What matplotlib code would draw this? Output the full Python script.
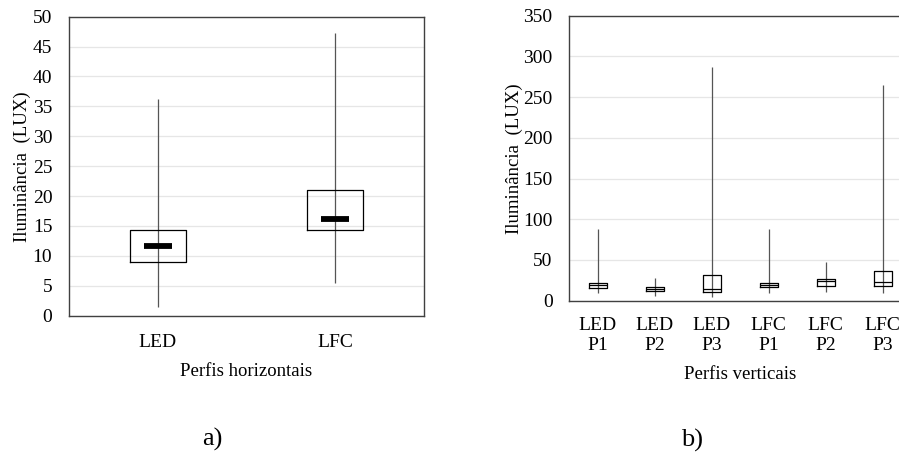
import matplotlib.pyplot as plt

plt.rcParams['font.family'] = ['Liberation Serif', 'DejaVu Serif']

# ---- data ----
horiz_labels = ["LED", "LFC"]
horiz_low = [1.5, 5.4]
horiz_q1 = [8.9, 14.3]
horiz_med = [11.6, 16.2]
horiz_q3 = [14.4, 21.1]
horiz_high = [36.2, 47.2]

vert_labels = ["LED\nP1", "LED\nP2", "LED\nP3", "LFC\nP1", "LFC\nP2", "LFC\nP3"]
vert_low = [9.6, 5.8, 5.0, 9.6, 10.6, 9.0]
vert_q1 = [15.7, 11.9, 10.6, 16.3, 18.0, 18.0]
vert_med = [19.0, 14.7, 14.7, 19.6, 24.0, 23.0]
vert_q3 = [22.3, 17.0, 31.0, 22.3, 27.0, 37.0]
vert_high = [87.7, 28.0, 287.0, 87.7, 47.0, 265.0]


def stats(labels, low, q1, med, q3, high):
    return [dict(label=l, whislo=a, q1=b, med=c, q3=d, whishi=e, fliers=[])
            for l, a, b, c, d, e in zip(labels, low, q1, med, q3, high)]


fig = plt.figure(figsize=(8.99, 4.53), dpi=100)
ax1 = fig.add_axes([69 / 899, 1 - 315.7 / 453, 355 / 899, 299 / 453])
ax2 = fig.add_axes([569.3 / 899, 1 - 300.7 / 453, 342 / 899, 285 / 453])

box = dict(color="black", linewidth=0.9)
no_whisk = dict(linestyle="none")
whisk_color = "#555555"

# ---- a) horizontal profiles ----
pos1 = [0.5, 1.5]
# whisker runs straight through the (unfilled) box in the reference
ax1.vlines(pos1, horiz_low, horiz_high, color=whisk_color, linewidth=0.9, zorder=2)
ax1.bxp(stats(horiz_labels, horiz_low, horiz_q1, horiz_med, horiz_q3, horiz_high),
        positions=pos1, widths=0.315, showcaps=False,
        boxprops=box, whiskerprops=no_whisk,
        medianprops=dict(color="black", linewidth=4.2, solid_capstyle="butt"))
ax1.set_xlim(0, 2)
ax1.set_ylim(0, 50)
ax1.set_yticks(range(0, 51, 5))
ax1.set_ylabel("Iluminância  (LUX)", fontsize=13.5, labelpad=1)
ax1.set_xlabel("Perfis horizontais", fontsize=13.5, labelpad=9)
ax1.text(0.405, -0.415, "a)", transform=ax1.transAxes, ha="center", va="center", fontsize=19)

# shrink median bars on the left chart to half the box width
for med_line in [l for l in ax1.lines if l.get_linewidth() == 4.2]:
    x0, x1 = med_line.get_xdata()[:2]
    c = (x0 + x1) / 2
    w = (x1 - x0) / 4
    med_line.set_xdata([c - w, c + w])

# ---- b) vertical profiles ----
pos2 = [i + 0.5 for i in range(6)]
ax2.vlines(pos2, vert_low, vert_high, color=whisk_color, linewidth=0.9, zorder=2)
ax2.bxp(stats(vert_labels, vert_low, vert_q1, vert_med, vert_q3, vert_high),
        positions=pos2, widths=0.32, showcaps=False,
        boxprops=box, whiskerprops=no_whisk,
        medianprops=dict(color="black", linewidth=0.9))
ax2.set_xlim(0, 6)
ax2.set_ylim(0, 350)
ax2.set_yticks(range(0, 351, 50))
ax2.set_ylabel("Iluminância  (LUX)", fontsize=13.5, labelpad=0)
ax2.set_xlabel("Perfis verticais", fontsize=13.5, labelpad=9)
ax2.text(0.36, -0.49, "b)", transform=ax2.transAxes, ha="center", va="center", fontsize=19)

for ax in (ax1, ax2):
    ax.grid(axis="y", color="#e6e6e6", linewidth=0.9)
    ax.set_axisbelow(True)
    ax.tick_params(axis="both", length=0, labelsize=14)
    ax.tick_params(axis="y", pad=12)
    for s in ax.spines.values():
        s.set_color("#404040")
        s.set_linewidth(1.0)
ax1.tick_params(axis="x", pad=13)
ax2.tick_params(axis="x", pad=12)

fig.savefig("out.png", dpi=100)
